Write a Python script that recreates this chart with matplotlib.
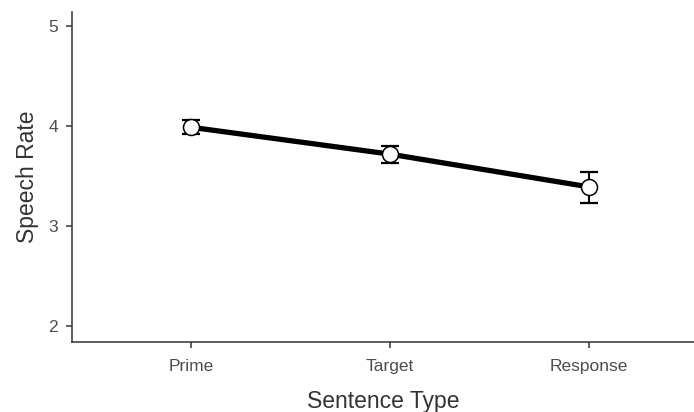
import matplotlib.pyplot as plt
import numpy as np

plt.rcParams['font.family'] = ['Liberation Sans', 'DejaVu Sans']

# data
sentence_types = ['Prime', 'Target', 'Response']
speech_rate = [3.985, 3.717, 3.39]
err_low = [3.92, 3.63, 3.23]
err_high = [4.06, 3.80, 3.54]
y_ticks = [2, 3, 4, 5]

x = np.arange(1, len(sentence_types) + 1)
mean = np.array(speech_rate)
yerr = np.array([mean - np.array(err_low), np.array(err_high) - mean])

fig = plt.figure(figsize=(6.94, 4.12), dpi=100)
ax = fig.add_axes([0.1037, 0.170, 0.8963, 0.8016])

ax.plot(x, mean, color='black', lw=3.8, zorder=2, solid_capstyle='butt')
ax.errorbar(x, mean, yerr=yerr, fmt='none', ecolor='black', elinewidth=1.4,
            capsize=6.8, capthick=1.6, zorder=3)
ax.plot(x, mean, 'o', ms=11.5, mfc='white', mec='black', mew=1.1, zorder=4)

ax.set_xlim(0.40, 3.53)
ax.set_ylim(1.84, 5.14)
ax.set_xticks(x)
ax.set_xticklabels(sentence_types)
ax.set_yticks(y_ticks)

for side in ['top', 'right']:
    ax.spines[side].set_visible(False)
for side in ['left', 'bottom']:
    ax.spines[side].set_linewidth(1.1)
    ax.spines[side].set_color('#333333')

ax.tick_params(axis='both', length=4, width=1.1, color='#333333',
               labelsize=12.5, labelcolor='#4D4D4D')
ax.tick_params(axis='x', pad=8)
ax.tick_params(axis='y', pad=6)

ax.set_xlabel('Sentence Type', fontsize=16.5, color='#333333', labelpad=12)
ax.set_ylabel('Speech Rate', fontsize=16.5, color='#333333', labelpad=7)

fig.savefig('out.png', dpi=100)
